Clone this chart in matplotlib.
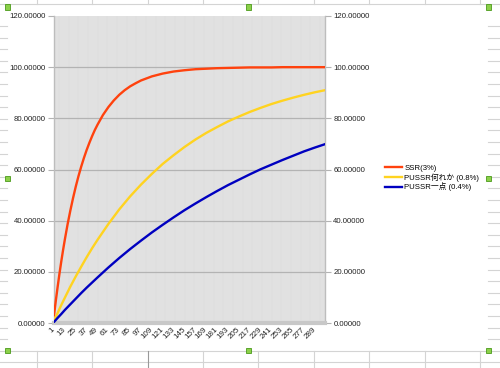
import matplotlib
matplotlib.use("Agg")
import matplotlib.pyplot as plt
from matplotlib.lines import Line2D
from matplotlib.patches import Rectangle

plt.rcParams['font.family'] = ['Liberation Sans', 'Noto Sans CJK JP', 'DejaVu Sans']

x_ssr = [1, 3, 5, 7, 9, 11, 13, 16, 19, 22, 25, 28, 31, 34, 37, 40, 43, 46, 49,
         55, 61, 67, 73, 79, 85, 91, 97, 109, 121, 133, 145, 157, 169, 181, 193,
         205, 217, 229, 241, 253, 265, 277, 289, 300]
ssr = [3.0, 8.7, 14.1, 19.2, 24.0, 28.5, 32.7, 38.6, 43.9, 48.8, 53.3, 57.4,
       61.1, 64.5, 67.6, 70.4, 73.0, 75.4, 77.5, 81.3, 84.4, 87.0, 89.2, 91.0,
       92.5, 93.7, 94.8, 96.4, 97.5, 98.3, 98.8, 99.2, 99.4, 99.6, 99.7, 99.8,
       99.9, 99.9, 99.9, 100.0, 100.0, 100.0, 100.0, 100.0]
x = [1, 5, 9, 13, 19, 25, 31, 37, 43, 49, 61, 73, 85, 97, 109, 121, 133, 145,
     157, 169, 181, 193, 205, 217, 229, 241, 253, 265, 277, 289, 300]
pussr_any = [0.8, 3.9, 7.0, 9.9, 14.2, 18.2, 22.0, 25.7, 29.2, 32.5, 38.7, 44.4,
             49.5, 54.1, 58.3, 62.2, 65.6, 68.8, 71.7, 74.3, 76.6, 78.8, 80.7,
             82.5, 84.1, 85.6, 86.9, 88.1, 89.2, 90.2, 91.0]
pussr_one = [0.4, 2.0, 3.5, 5.1, 7.3, 9.5, 11.7, 13.8, 15.8, 17.8, 21.7, 25.4,
             28.9, 32.2, 35.4, 38.4, 41.3, 44.1, 46.7, 49.2, 51.6, 53.9, 56.0,
             58.1, 60.1, 61.9, 63.7, 65.4, 67.1, 68.6, 69.9]
labels = ['SSR(3%)', 'PUSSR何れか (0.8%)', 'PUSSR一点 (0.4%)']
xticks = list(range(1, 290, 12))
yticks = [0, 20, 40, 60, 80, 100, 120]

W, H = 500, 368
fig = plt.figure(figsize=(W / 100, H / 100), dpi=100)
fig.patch.set_facecolor('white')

# spreadsheet cells behind the chart
def px_line(x0, y0, x1, y1, color='#d4d4d4', lw=0.8):
    fig.add_artist(Line2D([x0 / W, x1 / W], [1 - y0 / H, 1 - y1 / H],
                          transform=fig.transFigure, color=color, lw=lw, zorder=0))

px_line(0, 4, 500, 4)
px_line(0, 351, 500, 351)
px_line(0, 362, 500, 362)
for cx in [37, 92, 148, 203, 258, 314, 369, 425, 480]:
    px_line(cx, 0, cx, 4)
    px_line(cx, 351, cx, 368, color='#999999' if cx == 148 else '#d4d4d4')
y = 26.0
while y < 345:
    px_line(0, y, 7, y)
    px_line(488, y, 500, y)
    y += 11.6

ax = fig.add_axes([54 / W, 1 - 323 / H, 271 / W, 307 / H])
ax.set_facecolor('#e6e6e6')

for xv in range(1, 301):
    ax.axvline(xv, color='#dcdcdc', lw=0.3, zorder=0)
for yv in yticks[1:-1]:
    ax.axhline(yv, color='#b3b3b3', lw=0.9, zorder=1)

ax.plot(x_ssr, ssr, color='#ff420e', lw=1.7, label=labels[0], zorder=3)
ax.plot(x, pussr_any, color='#ffd320', lw=1.7, label=labels[1], zorder=3)
ax.plot(x, pussr_one, color='#0000c0', lw=1.7, label=labels[2], zorder=3)

ax.set_xlim(1, 300)
ax.set_ylim(0, 120)
ax.set_yticks(yticks)
ax.set_yticklabels(['%.5f' % v for v in yticks])
ax.set_xticks(xticks)
ax.set_xticklabels([str(v) for v in xticks], rotation=45, ha='right',
                   va='center', rotation_mode='anchor')
ax.tick_params(axis='y', labelsize=5.6, colors='#b3b3b3', labelcolor='#222222',
               length=4, width=0.8, right=True, labelright=True, pad=2)
ax.tick_params(axis='x', labelsize=5.8, length=0, labelcolor='#222222', pad=4)

for s in ['left', 'right']:
    ax.spines[s].set_color('#bdbdbd')
    ax.spines[s].set_linewidth(1.0)
ax.spines['top'].set_visible(False)
ax.spines['bottom'].set_color('#c8c8c8')
ax.spines['bottom'].set_linewidth(3)

fig.legend(loc='center left', bbox_to_anchor=(382 / W, 1 - 178 / H),
           frameon=False, fontsize=5.6, handlelength=2.2, handletextpad=0.25,
           labelspacing=0.1, borderaxespad=0)

# selection handles
for hx, hy in [(7, 7), (7, 178), (7, 350), (248, 7), (248, 350),
               (488, 7), (488, 178), (488, 350)]:
    fig.add_artist(Rectangle(((hx - 2.5) / W, 1 - (hy + 2.5) / H), 5 / W, 5 / H,
                             transform=fig.transFigure, facecolor='#8cd04a',
                             edgecolor='#4a9a1a', lw=0.6, zorder=5))

fig.savefig('out.png', dpi=100)
